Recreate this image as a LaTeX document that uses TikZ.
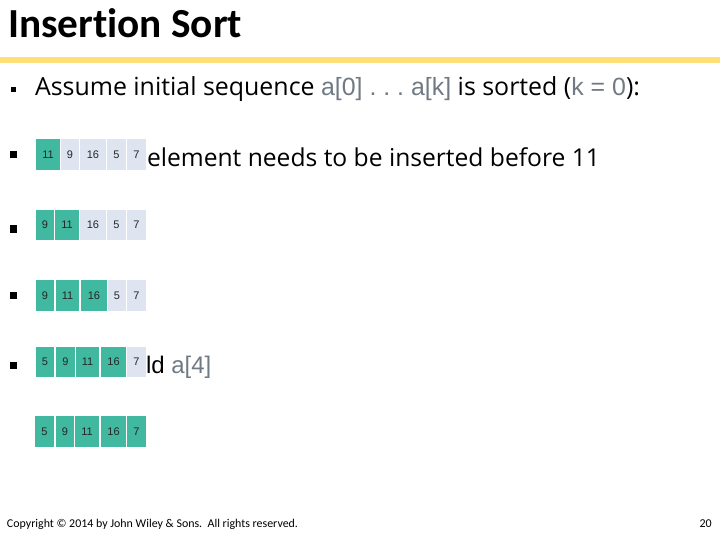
\documentclass[tikz,border=0pt]{standalone}
\usepackage{fontspec}
\setmainfont{Open Sans}
\newfontfamily\titlefont[Ligatures=NoCommon]{Carlito}
\newfontfamily\arialfont{Liberation Sans}
\newfontfamily\footfont{Carlito}
\definecolor{teal1}{RGB}{64,185,160}
\definecolor{light1}{RGB}{222,229,241}
\definecolor{bar1}{RGB}{253,224,120}
\definecolor{gray1}{RGB}{112,122,132}
\tikzset{
  txt/.style={anchor=base west, inner sep=0pt, outer sep=0pt},
  cellbox/.style={draw=none, inner sep=0pt, outer sep=0pt, font=\arialfont\fontsize{11}{11}\selectfont, text=black!85},
  bulletbox/.style={fill=black, inner sep=0pt, outer sep=0pt},
}
\newcommand{\mycell}[7]{%
  \node[cellbox, fill=#6, minimum width={(#3-#2)*1pt}, minimum height={(#5-#4)*1pt}] (#1) at ({(#2+#3)/2},{(#4+#5)/2}) {#7};}
\newcommand{\gr}[1]{{\arialfont\color{gray1}#1}}
\begin{document}
\begin{tikzpicture}[x=1pt,y=-1pt]
\useasboundingbox (0,0) rectangle (720,540);
\fill[white] (0,0) rectangle (720,540);
% title
\node[txt] (title) at (8,38) {\resizebox{234pt}{!}{\titlefont\bfseries\fontsize{36}{36}\selectfont Insertion Sort}};
\fill[bar1] (0,57) rectangle (720,63);
% line 1
\node[bulletbox, minimum size=5pt] (b0) at (13.5,90) {};
\node[txt] (line1) at (35,96) {\resizebox{605pt}{!}{\fontsize{22}{22}\selectfont Assume initial sequence \gr{a[0]\ .\ .\ .\ a[k]} is sorted (\gr{k = 0}):}};
% bullets
\node[bulletbox, minimum size=7pt] (b1) at (13.5,154.5) {};
\node[bulletbox, minimum size=7pt] (b2) at (13.5,229) {};
\node[bulletbox, minimum size=7pt] (b3) at (13.5,295) {};
\node[bulletbox, minimum size=7pt] (b4) at (13.5,365) {};
% texts
\node[txt] (line2) at (147,167) {\resizebox{453pt}{!}{\fontsize{25}{25}\selectfont element needs to be inserted before 11}};
\node[txt] (line4) at (146,373) {\arialfont\fontsize{24}{24}\selectfont ld \color{gray1}a[4]};
% row 1
\mycell{r1a}{36}{60}{139}{170}{teal1}{11}
\mycell{r1b}{61}{79}{139}{170}{light1}{9}
\mycell{r1c}{80}{106}{139}{170}{light1}{16}
\mycell{r1d}{107}{126}{139}{170}{light1}{5}
\mycell{r1e}{127}{146}{139}{170}{light1}{7}
% row 2
\mycell{r2a}{36}{54}{210}{240}{teal1}{9}
\mycell{r2b}{55}{79}{210}{240}{teal1}{11}
\mycell{r2c}{80}{106}{210}{240}{light1}{16}
\mycell{r2d}{107}{126}{210}{240}{light1}{5}
\mycell{r2e}{127}{146}{210}{240}{light1}{7}
% row 3
\mycell{r3a}{36}{54}{280}{311}{teal1}{9}
\mycell{r3b}{56}{79}{280}{311}{teal1}{11}
\mycell{r3c}{81}{107}{280}{311}{teal1}{16}
\mycell{r3d}{108}{126}{280}{311}{light1}{5}
\mycell{r3e}{127}{146}{280}{311}{light1}{7}
% row 4
\mycell{r4a}{36}{54}{347}{377}{teal1}{5}
\mycell{r4b}{56}{75}{347}{377}{teal1}{9}
\mycell{r4c}{76}{99}{347}{377}{teal1}{11}
\mycell{r4d}{101}{126}{347}{377}{teal1}{16}
\mycell{r4e}{127}{146}{347}{377}{light1}{7}
% row 5
\mycell{r5a}{35}{54}{416}{447}{teal1}{5}
\mycell{r5b}{56}{74}{416}{447}{teal1}{9}
\mycell{r5c}{75}{99}{416}{447}{teal1}{11}
\mycell{r5d}{101}{126}{416}{447}{teal1}{16}
\mycell{r5e}{127}{146}{416}{447}{teal1}{7}
% footer
\node[txt] (foot) at (7,527) {\resizebox{291pt}{!}{\footfont\fontsize{11}{11}\selectfont Copyright \textcopyright{} 2014 by John Wiley \& Sons.\ \ All rights reserved.}};
\node[anchor=base east, inner sep=0pt] (page) at (712,527) {\footfont\fontsize{12}{12}\selectfont 20};
\end{tikzpicture}
\end{document}
